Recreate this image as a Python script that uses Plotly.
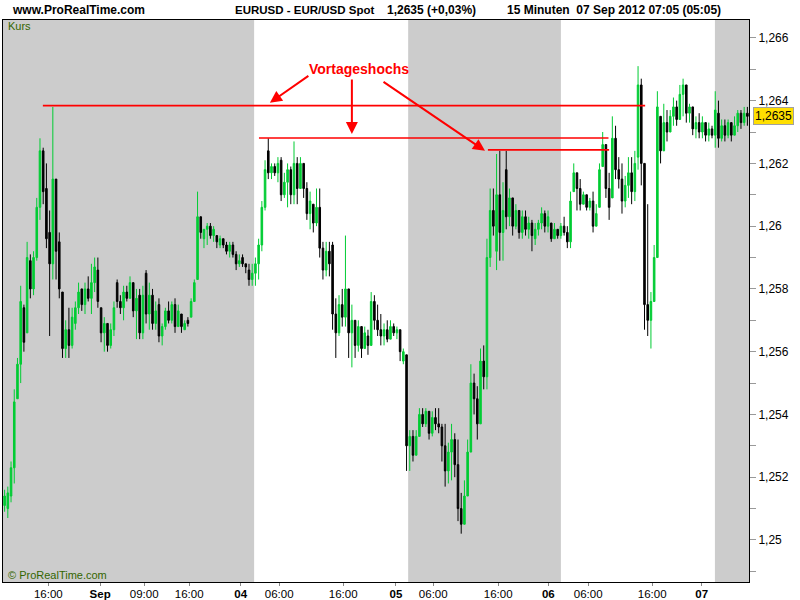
import plotly.graph_objects as go

# EUR/USD 30-minute candles, 31 Aug - 07 Sep 2012
open_ = [
    1.2511, 1.2510, 1.2514, 1.2523, 1.2545, 1.2556, 1.2574, 1.2566, 1.2589, 1.2580,
    1.2590, 1.2606, 1.2624, 1.2612, 1.2598, 1.2588, 1.2615, 1.2595, 1.2579, 1.2561,
    1.2567, 1.2562, 1.2569, 1.2574, 1.2580, 1.2575, 1.2580, 1.2577, 1.2582, 1.2586,
    1.2574, 1.2566, 1.2569, 1.2562, 1.2567, 1.2582, 1.2576, 1.2574, 1.2579, 1.2577,
    1.2582, 1.2573, 1.2578, 1.2566, 1.2585, 1.2572, 1.2578, 1.2569, 1.2575, 1.2565,
    1.2568, 1.2573, 1.2570, 1.2575, 1.2568, 1.2572, 1.2567, 1.2570, 1.2571, 1.2576,
    1.2583, 1.2603, 1.2596, 1.2599, 1.2600, 1.2597, 1.2597, 1.2594, 1.2596, 1.2594,
    1.2592, 1.2594, 1.2591, 1.2588, 1.2590, 1.2588, 1.2586, 1.2583, 1.2585, 1.2588,
    1.2594, 1.2606, 1.2624, 1.2617, 1.2619, 1.2617, 1.2621, 1.2610, 1.2614, 1.2618,
    1.2610, 1.2620, 1.2612, 1.2620, 1.2612, 1.2604, 1.2607, 1.2601, 1.2606, 1.2593,
    1.2586, 1.2592, 1.2594, 1.2572, 1.2566, 1.2575, 1.2571, 1.2580, 1.2566, 1.2570,
    1.2562, 1.2568, 1.2561, 1.2565, 1.2562, 1.2576, 1.2570, 1.2567, 1.2565, 1.2567,
    1.2564, 1.2568, 1.2566, 1.2567, 1.2557, 1.2559, 1.2530, 1.2533, 1.2527, 1.2533,
    1.2540, 1.2537, 1.2541, 1.2534, 1.2539, 1.2537, 1.2536, 1.2530, 1.2522, 1.2528,
    1.2532, 1.2524, 1.2510, 1.2505, 1.2514, 1.2528, 1.2550, 1.2545, 1.2537, 1.2557,
    1.2552, 1.2590, 1.2605, 1.2592, 1.2610, 1.2598, 1.2618, 1.2603, 1.2609, 1.2600,
    1.2605, 1.2598, 1.2603, 1.2599, 1.2601, 1.2596, 1.2599, 1.2601, 1.2604, 1.2600,
    1.2601, 1.2596, 1.2599, 1.2597, 1.2600, 1.2598, 1.2595, 1.2611, 1.2617, 1.2612,
    1.2607, 1.2610, 1.2606, 1.2608, 1.2600, 1.2606, 1.2619, 1.2626, 1.2612, 1.2609,
    1.2628, 1.2618, 1.2615, 1.2608, 1.2613, 1.2617, 1.2611, 1.2622, 1.2645, 1.2620,
    1.2575, 1.2570, 1.2576, 1.2590, 1.2635, 1.2624, 1.2633, 1.2630, 1.2635, 1.2638,
    1.2634, 1.2642, 1.2645, 1.2636, 1.2638, 1.2631, 1.2633, 1.2630, 1.2633, 1.2629,
    1.2631, 1.2629, 1.2636, 1.2628, 1.2632, 1.2629, 1.2633, 1.2629, 1.2632, 1.2636,
    1.2633, 1.2636,
]
high = [
    1.2516, 1.2517, 1.2525, 1.2548, 1.2558, 1.2581, 1.2575, 1.2595, 1.2591, 1.2592,
    1.2609, 1.2628, 1.2625, 1.2620, 1.2605, 1.2638, 1.2615, 1.2598, 1.2579, 1.2570,
    1.2574, 1.2574, 1.2576, 1.2582, 1.2580, 1.2582, 1.2584, 1.2588, 1.2590, 1.2590,
    1.2574, 1.2571, 1.2569, 1.2569, 1.2576, 1.2583, 1.2578, 1.2581, 1.2581, 1.2584,
    1.2582, 1.2580, 1.2580, 1.2581, 1.2586, 1.2582, 1.2580, 1.2576, 1.2577, 1.2569,
    1.2574, 1.2576, 1.2576, 1.2577, 1.2575, 1.2572, 1.2570, 1.2571, 1.2577, 1.2583,
    1.2611, 1.2603, 1.2599, 1.2601, 1.2601, 1.2600, 1.2597, 1.2597, 1.2596, 1.2595,
    1.2595, 1.2595, 1.2592, 1.2591, 1.2591, 1.2588, 1.2588, 1.2588, 1.2590, 1.2596,
    1.2608, 1.2621, 1.2628, 1.2620, 1.2620, 1.2622, 1.2622, 1.2617, 1.2620, 1.2619,
    1.2627, 1.2622, 1.2622, 1.2620, 1.2614, 1.2611, 1.2607, 1.2612, 1.2612, 1.2595,
    1.2595, 1.2595, 1.2595, 1.2577, 1.2578, 1.2580, 1.2597, 1.2580, 1.2575, 1.2570,
    1.2570, 1.2568, 1.2568, 1.2567, 1.2579, 1.2578, 1.2575, 1.2572, 1.2569, 1.2570,
    1.2570, 1.2569, 1.2568, 1.2567, 1.2561, 1.2559, 1.2535, 1.2535, 1.2535, 1.2542,
    1.2542, 1.2542, 1.2541, 1.2541, 1.2542, 1.2542, 1.2537, 1.2537, 1.2531, 1.2537,
    1.2534, 1.2532, 1.2515, 1.2519, 1.2532, 1.2556, 1.2553, 1.2549, 1.2561, 1.2562,
    1.2596, 1.2612, 1.2612, 1.2623, 1.2624, 1.2614, 1.2624, 1.2612, 1.2609, 1.2607,
    1.2605, 1.2605, 1.2605, 1.2603, 1.2602, 1.2601, 1.2602, 1.2606, 1.2605, 1.2605,
    1.2601, 1.2601, 1.2599, 1.2601, 1.2603, 1.2600, 1.2611, 1.2620, 1.2617, 1.2615,
    1.2611, 1.2610, 1.2609, 1.2611, 1.2607, 1.2620, 1.2630, 1.2626, 1.2617, 1.2635,
    1.2632, 1.2622, 1.2620, 1.2616, 1.2622, 1.2622, 1.2624, 1.2651, 1.2647, 1.2620,
    1.2607, 1.2579, 1.2594, 1.2643, 1.2635, 1.2639, 1.2637, 1.2637, 1.2641, 1.2640,
    1.2645, 1.2647, 1.2645, 1.2639, 1.2638, 1.2635, 1.2636, 1.2635, 1.2633, 1.2633,
    1.2632, 1.2643, 1.2640, 1.2634, 1.2634, 1.2634, 1.2633, 1.2635, 1.2637, 1.2637,
    1.2638, 1.2638,
]
low = [
    1.2509, 1.2507, 1.2512, 1.2518, 1.2545, 1.2550, 1.2560, 1.2566, 1.2577, 1.2578,
    1.2589, 1.2602, 1.2607, 1.2593, 1.2565, 1.2583, 1.2583, 1.2577, 1.2558, 1.2558,
    1.2558, 1.2561, 1.2567, 1.2572, 1.2573, 1.2572, 1.2576, 1.2572, 1.2579, 1.2574,
    1.2563, 1.2560, 1.2560, 1.2561, 1.2565, 1.2574, 1.2572, 1.2570, 1.2576, 1.2577,
    1.2571, 1.2564, 1.2564, 1.2564, 1.2569, 1.2567, 1.2567, 1.2567, 1.2563, 1.2562,
    1.2567, 1.2569, 1.2569, 1.2566, 1.2568, 1.2566, 1.2567, 1.2568, 1.2571, 1.2576,
    1.2583, 1.2596, 1.2593, 1.2594, 1.2596, 1.2595, 1.2593, 1.2593, 1.2593, 1.2591,
    1.2590, 1.2590, 1.2586, 1.2587, 1.2587, 1.2585, 1.2581, 1.2581, 1.2581, 1.2583,
    1.2592, 1.2605, 1.2615, 1.2615, 1.2616, 1.2614, 1.2608, 1.2609, 1.2606, 1.2607,
    1.2607, 1.2607, 1.2612, 1.2609, 1.2602, 1.2599, 1.2598, 1.2600, 1.2590, 1.2583,
    1.2584, 1.2584, 1.2567, 1.2558, 1.2565, 1.2568, 1.2568, 1.2558, 1.2555, 1.2558,
    1.2560, 1.2558, 1.2561, 1.2559, 1.2562, 1.2567, 1.2565, 1.2562, 1.2562, 1.2563,
    1.2564, 1.2565, 1.2564, 1.2557, 1.2556, 1.2522, 1.2522, 1.2525, 1.2527, 1.2533,
    1.2536, 1.2536, 1.2532, 1.2533, 1.2535, 1.2534, 1.2525, 1.2517, 1.2518, 1.2519,
    1.2520, 1.2506, 1.2502, 1.2505, 1.2514, 1.2528, 1.2540, 1.2532, 1.2537, 1.2548,
    1.2548, 1.2587, 1.2597, 1.2586, 1.2589, 1.2589, 1.2599, 1.2600, 1.2597, 1.2599,
    1.2596, 1.2596, 1.2597, 1.2596, 1.2592, 1.2594, 1.2597, 1.2599, 1.2598, 1.2598,
    1.2595, 1.2596, 1.2596, 1.2596, 1.2597, 1.2593, 1.2593, 1.2611, 1.2605, 1.2605,
    1.2607, 1.2605, 1.2605, 1.2598, 1.2600, 1.2606, 1.2619, 1.2609, 1.2602, 1.2609,
    1.2615, 1.2612, 1.2604, 1.2606, 1.2609, 1.2607, 1.2608, 1.2618, 1.2613, 1.2567,
    1.2565, 1.2561, 1.2576, 1.2590, 1.2620, 1.2624, 1.2627, 1.2630, 1.2632, 1.2632,
    1.2634, 1.2635, 1.2633, 1.2633, 1.2629, 1.2628, 1.2628, 1.2628, 1.2627, 1.2627,
    1.2628, 1.2625, 1.2625, 1.2627, 1.2627, 1.2628, 1.2627, 1.2629, 1.2630, 1.2631,
    1.2632, 1.2632,
]
close = [
    1.2514, 1.2515, 1.2523, 1.2544, 1.2556, 1.2576, 1.2563, 1.2590, 1.2580, 1.2590,
    1.2606, 1.2624, 1.2611, 1.2596, 1.2588, 1.2615, 1.2592, 1.2580, 1.2561, 1.2567,
    1.2562, 1.2571, 1.2574, 1.2579, 1.2575, 1.2580, 1.2577, 1.2582, 1.2587, 1.2576,
    1.2566, 1.2569, 1.2562, 1.2567, 1.2574, 1.2576, 1.2574, 1.2579, 1.2577, 1.2582,
    1.2573, 1.2577, 1.2566, 1.2578, 1.2572, 1.2578, 1.2569, 1.2573, 1.2565, 1.2568,
    1.2573, 1.2570, 1.2575, 1.2568, 1.2573, 1.2568, 1.2569, 1.2569, 1.2576, 1.2582,
    1.2603, 1.2598, 1.2599, 1.2600, 1.2597, 1.2599, 1.2595, 1.2596, 1.2594, 1.2592,
    1.2594, 1.2591, 1.2588, 1.2589, 1.2588, 1.2587, 1.2583, 1.2585, 1.2588, 1.2594,
    1.2606, 1.2618, 1.2617, 1.2619, 1.2617, 1.2620, 1.2610, 1.2614, 1.2618, 1.2610,
    1.2620, 1.2612, 1.2620, 1.2612, 1.2604, 1.2608, 1.2601, 1.2606, 1.2593, 1.2586,
    1.2592, 1.2588, 1.2572, 1.2566, 1.2575, 1.2571, 1.2580, 1.2566, 1.2570, 1.2562,
    1.2568, 1.2561, 1.2566, 1.2562, 1.2576, 1.2570, 1.2567, 1.2565, 1.2567, 1.2564,
    1.2568, 1.2566, 1.2567, 1.2560, 1.2560, 1.2530, 1.2533, 1.2527, 1.2533, 1.2540,
    1.2537, 1.2541, 1.2534, 1.2539, 1.2537, 1.2536, 1.2530, 1.2522, 1.2528, 1.2532,
    1.2524, 1.2510, 1.2505, 1.2514, 1.2528, 1.2550, 1.2545, 1.2537, 1.2557, 1.2552,
    1.2590, 1.2605, 1.2600, 1.2610, 1.2598, 1.2605, 1.2603, 1.2609, 1.2600, 1.2605,
    1.2598, 1.2603, 1.2599, 1.2601, 1.2597, 1.2599, 1.2601, 1.2604, 1.2600, 1.2603,
    1.2596, 1.2599, 1.2597, 1.2600, 1.2598, 1.2595, 1.2608, 1.2617, 1.2612, 1.2607,
    1.2610, 1.2606, 1.2608, 1.2600, 1.2604, 1.2618, 1.2626, 1.2612, 1.2606, 1.2628,
    1.2618, 1.2615, 1.2608, 1.2613, 1.2617, 1.2611, 1.2620, 1.2645, 1.2620, 1.2575,
    1.2570, 1.2576, 1.2590, 1.2638, 1.2624, 1.2633, 1.2630, 1.2635, 1.2638, 1.2634,
    1.2642, 1.2645, 1.2636, 1.2638, 1.2631, 1.2633, 1.2630, 1.2633, 1.2629, 1.2631,
    1.2629, 1.2637, 1.2628, 1.2632, 1.2629, 1.2633, 1.2629, 1.2632, 1.2636, 1.2633,
    1.2636, 1.2635,
]
bar_idx = list(range(len(close)))

# x-axis labels (bar-index positions)
tick_pos = [13.6, 29.7, 43.4, 57.4, 73.4, 85.4, 105.3, 121.7, 133.3, 153.5, 169.1, 181.5, 201.4, 216.8]
tick_text = ["16:00", "<b>Sep</b>", "09:00", "16:00", "<b>04</b>", "06:00", "16:00",
             "<b>05</b>", "06:00", "16:00", "<b>06</b>", "06:00", "16:00", "<b>07</b>"]

# y-axis labels
price_ticks = [1.250, 1.252, 1.254, 1.256, 1.258, 1.260, 1.262, 1.264, 1.266]
price_text = ["1,25", "1,252", "1,254", "1,256", "1,258", "1,26", "1,262", "1,264", "1,266"]
minor_ticks = [1.249, 1.251, 1.253, 1.255, 1.257, 1.259, 1.261, 1.263, 1.265]

# gray session bands (bar-index ranges)
bands = [(-0.5, 77.6), (125.5, 173.0), (220.9, 231.5)]

# previous-day highs: level, first bar, last bar
prev_high = [1.26384, 1.26281, 1.26243]
prev_from = [11.9, 79.1, 150.3]
prev_to = [199.2, 187.8, 188.0]

last_price = 1.2635

fig = go.Figure()

fig.add_trace(go.Candlestick(
    x=bar_idx, open=open_, high=high, low=low, close=close,
    increasing=dict(line=dict(color="#00cc33", width=1), fillcolor="#00cc33"),
    decreasing=dict(line=dict(color="#000000", width=1), fillcolor="#000000"),
    whiskerwidth=0, showlegend=False, hoverinfo="skip",
))

for lvl, x0, x1 in zip(prev_high, prev_from, prev_to):
    fig.add_trace(go.Scatter(x=[x0, x1], y=[lvl, lvl], mode="lines",
                             line=dict(color="#ff0000", width=1.6),
                             showlegend=False, hoverinfo="skip"))

shapes = []
for b0, b1 in bands:
    shapes.append(dict(type="rect", xref="x", yref="paper", x0=b0, x1=b1, y0=0, y1=1,
                       fillcolor="#cccccc", line=dict(width=0), layer="below"))

hdr = dict(family="Liberation Sans, Arial, sans-serif", size=12, color="#000000")
annotations = [
    dict(text="<b>www.ProRealTime.com</b>", xref="paper", yref="paper", x=0.0094, y=1.018,
         xanchor="left", yanchor="middle", showarrow=False, font=hdr),
    dict(text="<b>EURUSD - EUR/USD Spot</b>", xref="paper", yref="paper", x=0.308, y=1.018,
         xanchor="left", yanchor="middle", showarrow=False,
         font=dict(family="Liberation Sans, Arial, sans-serif", size=11.5, color="#000000")),
    dict(text="<b>1,2635 (+0,03%)</b>", xref="paper", yref="paper", x=0.512, y=1.018,
         xanchor="left", yanchor="middle", showarrow=False, font=hdr),
    dict(text="<b>15 Minuten\u00a0 07 Sep 2012 07:05 (05:05)</b>", xref="paper", yref="paper",
         x=0.673, y=1.018, xanchor="left", yanchor="middle", showarrow=False, font=hdr),
    dict(text="Kurs", xref="paper", yref="paper", x=0.004, y=0.989, xanchor="left",
         yanchor="middle", showarrow=False,
         font=dict(family="Liberation Sans, Arial", size=11, color="#336600")),
    dict(text="© ProRealTime.com", xref="paper", yref="paper", x=0.004, y=0.012,
         xanchor="left", yanchor="middle", showarrow=False,
         font=dict(family="Liberation Sans, Arial", size=11, color="#336600")),
    dict(text=f"{last_price:.4f}".replace(".", ","), xref="paper", yref="y", x=1.005,
         y=last_price, xanchor="left", yanchor="middle", showarrow=False,
         bgcolor="#ffdf00", bordercolor="#a0a0a0", borderwidth=1, borderpad=1,
         font=dict(family="Liberation Sans, Arial", size=12, color="#000000")),
    dict(text="<b>Vortageshochs</b>", xref="x", yref="y", x=110.2, y=1.26501,
         xanchor="center", yanchor="middle", showarrow=False,
         font=dict(family="Liberation Sans, Arial", size=14, color="#ff0000")),
]
# arrows from the label down to the highs
for hx, hy, ax, ay in [(82.5, 1.26393, 40, -28), (108.0, 1.26294, 0, -56), (149.4, 1.26240, -103, -70)]:
    annotations.append(dict(text="", xref="x", yref="y", x=hx, y=hy, ax=ax, ay=ay,
                            showarrow=True, arrowhead=2, arrowsize=1.2, arrowwidth=2,
                            arrowcolor="#ff0000"))

fig.update_layout(
    width=800, height=600,
    margin=dict(l=3, r=51, t=20, b=18),
    paper_bgcolor="#ffffff", plot_bgcolor="#ffffff",
    font=dict(family="Liberation Sans, Arial, sans-serif", size=12, color="#000000"),
    shapes=shapes, annotations=annotations, hovermode=False,
    xaxis=dict(range=[-0.5, 231.5], tickvals=tick_pos, ticktext=tick_text,
               ticks="outside", ticklen=3, tickcolor="#888888", showgrid=False,
               zeroline=False, showline=True, linecolor="#000000", linewidth=1,
               mirror=True, rangeslider=dict(visible=False), automargin=False,
               ticklabelstandoff=-2, tickfont=dict(size=11.5)),
    yaxis=dict(side="right", range=[1.24866, 1.26657], tickvals=price_ticks,
               ticktext=price_text, ticks="outside", ticklen=6, tickcolor="#999999",
               showgrid=False, zeroline=False, showline=True, linecolor="#000000",
               linewidth=1, mirror=True, tickfont=dict(size=12), automargin=False,
               minor=dict(tickvals=minor_ticks, ticks="outside", ticklen=6,
                          tickcolor="#999999")),
)

fig.write_html("out.html", config={"displayModeBar": False},
               post_script="document.body.style.margin='0';")
